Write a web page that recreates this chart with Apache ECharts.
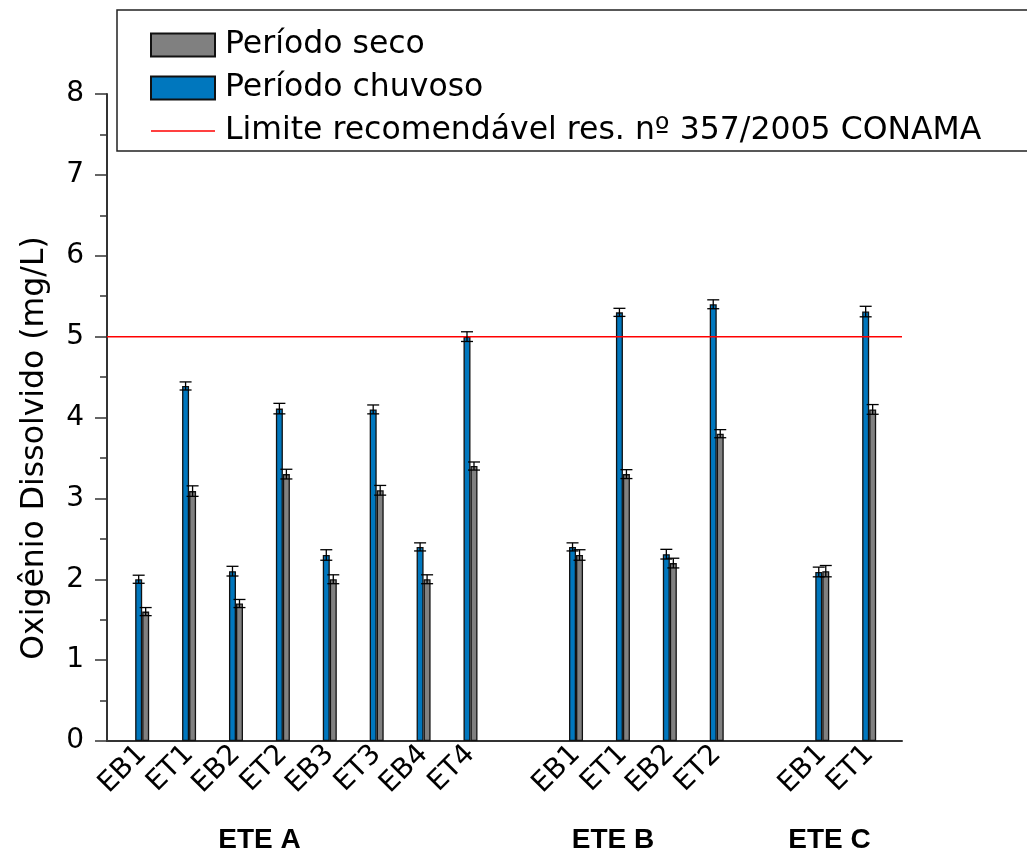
<!DOCTYPE html>
<html>
<head>
<meta charset="utf-8">
<script src="https://cdn.jsdelivr.net/npm/echarts@6/dist/echarts.min.js"></script>
<style>html,body{margin:0;padding:0;background:#fff}#c{width:1027px;height:853px}</style>
</head>
<body>
<div id="c"></div>
<script>
// ---- data ----
const groups = ['ETE A', 'ETE B', 'ETE C'];
const sites = [
  ['EB1', 'ET1', 'EB2', 'ET2', 'EB3', 'ET3', 'EB4', 'ET4'],
  ['EB1', 'ET1', 'EB2', 'ET2'],
  ['EB1', 'ET1']
];
const chuvoso    = [2.0, 4.39, 2.1, 4.11, 2.3, 4.1, 2.4, 5.0,  2.4, 5.3, 2.31, 5.4,  2.09, 5.31];
const chuvosoErr = [0.05, 0.05, 0.06, 0.065, 0.065, 0.055, 0.05, 0.06,  0.05, 0.05, 0.06, 0.055,  0.06, 0.065];
const seco       = [1.6, 3.09, 1.7, 3.3, 2.0, 3.1, 2.0, 3.4,  2.3, 3.3, 2.2, 3.8,  2.1, 4.1];
const secoErr    = [0.05, 0.065, 0.05, 0.06, 0.055, 0.06, 0.055, 0.05,  0.065, 0.055, 0.06, 0.05,  0.07, 0.06];
const limite = 5;
const yTicks = [0, 1, 2, 3, 4, 5, 6, 7, 8];
const seriesNames = ['Período seco', 'Período chuvoso', 'Limite recomendável res. nº 357/2005 CONAMA'];
const yTitle = 'Oxigênio Dissolvido (mg/L)';

// ---- layout helpers ----
const GROUP_GAP = 1.25;
const positions = [];
const labels = [];
sites.forEach((arr, g) => {
  let base = 0;
  for (let k = 0; k < g; k++) base += sites[k].length;
  arr.forEach((s, i) => { positions.push(base + i + g * GROUP_GAP); labels.push(s); });
});
const X_MIN = -0.75, X_MAX = 16.2;
const BAR_W = 7;
const FONT = '"DejaVu Sans", sans-serif';
const BOLD_FONT = 'bold 28px "Liberation Sans", Arial, sans-serif';

function labelFor(v) {
  for (let i = 0; i < positions.length; i++) if (Math.abs(positions[i] - v) < 1e-6) return labels[i];
  return '';
}
function errRender(off) {
  return function (params, api) {
    const x = api.value(0), v = api.value(1), e = api.value(2);
    const p1 = api.coord([x, v + e]);
    const p2 = api.coord([x, v - e]);
    const cx = p1[0] + off, hw = 6;
    const st = { stroke: '#000', lineWidth: 1.3 };
    return { type: 'group', children: [
      { type: 'line', shape: { x1: cx, y1: p1[1], x2: cx, y2: p2[1] }, style: st },
      { type: 'line', shape: { x1: cx - hw, y1: p1[1], x2: cx + hw, y2: p1[1] }, style: st },
      { type: 'line', shape: { x1: cx - hw, y1: p2[1], x2: cx + hw, y2: p2[1] }, style: st }
    ]};
  };
}
function groupText(name, x) {
  return { type: 'text', x: x, y: 840,
    style: { text: name, font: BOLD_FONT, fill: '#000', textAlign: 'center', textVerticalAlign: 'middle', verticalAlign: 'middle' } };
}

const chart = echarts.init(document.getElementById('c'), null, { renderer: 'canvas' });
chart.setOption({
  animation: false,
  backgroundColor: '#fff',
  grid: { left: 107, right: 125, top: 94, bottom: 112, containLabel: false },
  legend: {
    orient: 'vertical',
    left: 145, top: 24,
    itemWidth: 64, itemHeight: 23, itemGap: 11,
    symbolKeepAspect: true,
    data: [
      { name: seriesNames[0], icon: 'rect' },
      { name: seriesNames[1], icon: 'rect' },
      { name: seriesNames[2], icon: 'path://M0,0L64,0L64,1.5L0,1.5Z' }
    ],
    textStyle: { fontFamily: FONT, fontSize: 31.5, color: '#000', padding: [0, 0, 0, 5] },
    selectedMode: false
  },
  graphic: [
    { type: 'rect', shape: { x: 117, y: 10, width: 1100, height: 141 },
      style: { fill: 'none', stroke: '#222', lineWidth: 1.5 }, z: 0 },
    { type: 'text', x: 35, y: 448, rotation: Math.PI / 2,
      style: { text: yTitle, font: '31.5px ' + FONT, fill: '#000', textAlign: 'center', textVerticalAlign: 'middle', verticalAlign: 'middle' } },
    groupText(groups[0], 259.5),
    groupText(groups[1], 613),
    groupText(groups[2], 829.5)
  ],
  xAxis: {
    type: 'value', min: X_MIN, max: X_MAX, interval: 0.25,
    axisLine: { show: true, onZero: false, lineStyle: { color: '#333', width: 2 } },
    axisTick: { show: false },
    splitLine: { show: false },
    axisLabel: {
      rotate: 45, margin: 9, fontFamily: FONT, fontSize: 28, color: '#000',
      formatter: function (v) { return labelFor(v); },
      showMinLabel: true, showMaxLabel: true
    }
  },
  yAxis: {
    type: 'value', min: yTicks[0], max: yTicks[yTicks.length - 1], interval: 1,
    axisLine: { show: true, onZero: false, lineStyle: { color: '#333', width: 2 } },
    axisTick: { show: true, inside: false, length: 12, lineStyle: { color: '#333', width: 1.5 } },
    minorTick: { show: true, splitNumber: 2, length: 7, lineStyle: { color: '#333', width: 1.5 } },
    splitLine: { show: false },
    axisLabel: { margin: 23, fontFamily: FONT, fontSize: 28, color: '#000' }
  },
  series: [
    {
      name: seriesNames[1], type: 'bar', barWidth: BAR_W, barGap: '0%',
      data: positions.map((p, i) => [p, chuvoso[i]]),
      itemStyle: { color: '#0077BE', borderColor: '#111', borderWidth: 1.3 }
    },
    {
      name: seriesNames[0], type: 'bar', barWidth: BAR_W, barGap: '0%',
      data: positions.map((p, i) => [p, seco[i]]),
      itemStyle: { color: '#808080', borderColor: '#111', borderWidth: 1.3 }
    },
    {
      name: seriesNames[2], type: 'line', symbol: 'none', z: 5,
      data: [[X_MIN, limite], [X_MAX, limite]],
      lineStyle: { color: '#FF0000', width: 1.5 },
      itemStyle: { color: '#FF0000' }
    },
    {
      name: 'err-chuvoso', type: 'custom', z: 6,
      renderItem: errRender(-BAR_W / 2),
      encode: { x: 0, y: 1 },
      data: positions.map((p, i) => [p, chuvoso[i], chuvosoErr[i]])
    },
    {
      name: 'err-seco', type: 'custom', z: 6,
      renderItem: errRender(BAR_W / 2),
      encode: { x: 0, y: 1 },
      data: positions.map((p, i) => [p, seco[i], secoErr[i]])
    }
  ]
});
</script>
</body>
</html>
